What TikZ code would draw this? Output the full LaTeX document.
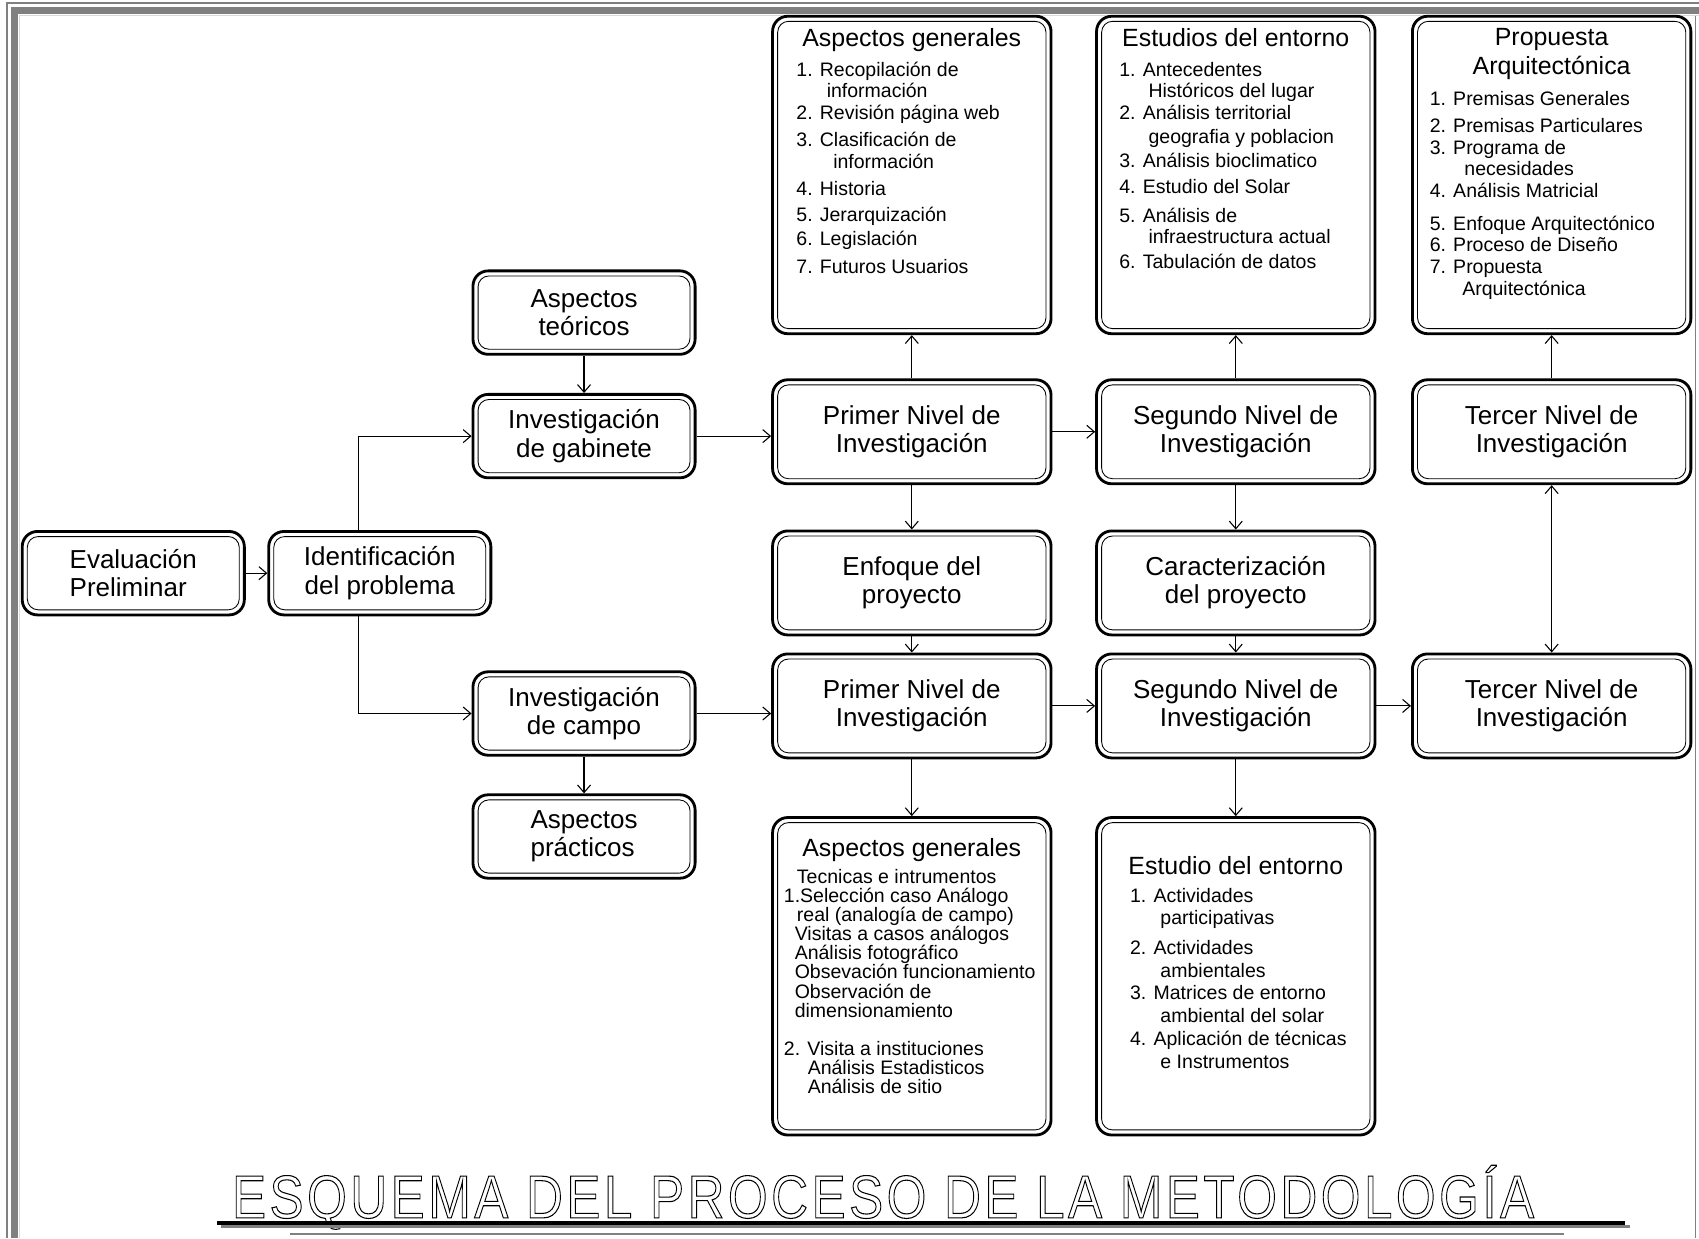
\documentclass[tikz,border=0pt]{standalone}
\usepackage{fontspec}
\setmainfont{Liberation Sans}
\usepackage{tikz}
\usetikzlibrary{arrows.meta}
\newcommand\boxfont{\fontsize{12}{13}\selectfont}
\newcommand\headfont{\fontsize{11.5}{13}\selectfont}
\newcommand\listfont{\fontsize{9}{10}\selectfont}
\newcommand\titlefont{\fontsize{28}{30}\selectfont\addfontfeature{LetterSpace=7}}
\tikzstyle{caja}=[draw,line width=1.3pt,rounded corners=7pt,align=center,inner sep=0pt,font=\boxfont]
\tikzstyle{cajac}=[caja,minimum width=102.5pt,minimum height=38.5pt]
\tikzstyle{cajan}=[caja,minimum width=128.5pt,minimum height=48pt]
\tikzstyle{cajal}=[caja,minimum width=128.5pt,minimum height=146.5pt]
\tikzstyle{interior}=[line width=.4pt,rounded corners=5pt]
\tikzstyle{flecha}=[line width=.5pt,>/.tip={Straight Barb[length=3.5pt,width=6pt]},->]
\tikzstyle{marco}=[black!50]

\begin{document}
\begin{tikzpicture}[x=.5pt,y=-.5pt]
	\useasboundingbox (0,0) rectangle (1568,1143);
	% marco
	\draw[marco,line width=.6pt] (6.5,1143) -- (6.5,2.8) -- (1568,2.8);
	\draw[marco,line width=3.2pt] (13.4,1143) -- (13.4,9.7) -- (1568,9.7);
	\draw[black!15,line width=.6pt] (17.8,1143) -- (17.8,14) -- (1568,14);
	\draw[marco,line width=.6pt] (1565,15) -- (1565,1143);
	% cajas
	\node[cajac,align=left] (EV) at (123,529) {Evaluación\\Preliminar};
	\node[cajac] (ID) at (350.5,529) {Identificación\\del problema};
	\node[cajac] (AT) at (539,288.5) {Aspectos\\teóricos};
	\node[cajac] (IG) at (539,402.5) {Investigación\\de gabinete};
	\node[cajac] (IC) at (539,658.5) {Investigación\\de campo};
	\node[cajac,align=left] (AP) at (539,772) {Aspectos\\prácticos};
	\node[cajan] (P1a) at (841.5,398.5) {Primer Nivel de\\Investigación};
	\node[cajan] (S2a) at (1140.5,398.5) {Segundo Nivel de\\Investigación};
	\node[cajan] (T3a) at (1432,398.5) {Tercer Nivel de\\Investigación};
	\node[cajan] (EN) at (841.5,538) {Enfoque del\\proyecto};
	\node[cajan] (CA) at (1140.5,538) {Caracterización\\del proyecto};
	\node[cajan] (P1b) at (841.5,651.5) {Primer Nivel de\\Investigación};
	\node[cajan] (S2b) at (1140.5,651.5) {Segundo Nivel de\\Investigación};
	\node[cajan] (T3b) at (1432,651.5) {Tercer Nivel de\\Investigación};
	\node[cajal] (AG1) at (841.5,161.5) {\parbox[c][139pt][t]{118pt}{\vspace*{2pt}{\centering\headfont Aspectos generales\par}
		\vspace{3.5pt}\raggedright\leftskip=5.75pt\listfont
		1. Recopilación de\par
		\hspace*{14pt}información\par
		2. Revisión página web\par\vspace{2.5pt}
		3. Clasificación de\par
		\hspace*{17pt}información\par\vspace{2.5pt}
		4. Historia\par\vspace{2pt}
		5. Jerarquización\par\vspace{1pt}
		6. Legislación\par\vspace{3pt}
		7. Futuros Usuarios}};
	\node[cajal] (EE1) at (1140.5,161.5) {\parbox[c][139pt][t]{118pt}{\vspace*{2pt}{\centering\headfont Estudios del entorno\par}
		\vspace{3.5pt}\raggedright\leftskip=5.25pt\listfont
		1. Antecedentes\par
		\hspace*{13.5pt}Históricos del lugar\par
		2. Análisis territorial\par\vspace{1pt}
		\hspace*{13.5pt}geografia y poblacion\par\vspace{1pt}
		3. Análisis bioclimatico\par\vspace{2pt}
		4. Estudio del Solar\par\vspace{3.5pt}
		5. Análisis de\par
		\hspace*{13.5pt}\mbox{infraestructura actual}\par\vspace{1.5pt}
		6. Tabulación de datos}};
	\node[cajal] (PA) at (1432,161.5) {\parbox[c][139pt][t]{118pt}{\vspace*{2pt}{\centering\headfont Propuesta\\Arquitectónica\par}
		\vspace{4.5pt}\raggedright\leftskip=2.75pt\listfont
		1. Premisas Generales\par\vspace{2.5pt}
		\mbox{2. Premisas Particulares}\par
		3. Programa de\par
		\hspace*{16pt}necesidades\par
		4. Análisis Matricial\par\vspace{5pt}
		\mbox{5. Enfoque Arquitectónico}\par
		6. Proceso de Diseño\par
		7. Propuesta\par
		\hspace*{15pt}Arquitectónica}};
	\node[cajal] (AG2) at (841.5,901) {\parbox[c][139pt][t]{118pt}{\vspace*{6pt}{\centering\headfont Aspectos generales\par}
		\vspace{2.5pt}\raggedright\fontsize{9}{8.8}\selectfont
		\hspace*{6pt}Tecnicas e intrumentos\par
		\mbox{1.Selección caso Análogo}\par
		\hspace*{6pt}\mbox{real (analogía de campo)}\par
		\hspace*{5pt}\mbox{Visitas a casos análogos}\par
		\hspace*{5pt}Análisis fotográfico\par
		\hspace*{5pt}\mbox{Obsevación funcionamiento}\par
		\hspace*{5pt}Observación de\par
		\hspace*{5pt}dimensionamiento\par\vspace{9pt}
		\mbox{2. Visita a instituciones}\par
		\hspace*{11pt}Análisis Estadisticos\par
		\hspace*{11pt}Análisis de sitio}};
	\node[cajal] (EE2) at (1140.5,901) {\parbox[c][139pt][t]{118pt}{\vspace*{14pt}{\centering\headfont Estudio del entorno\par}
		\vspace{2.5pt}\raggedright\leftskip=10.25pt\fontsize{9}{10.5}\selectfont
		1. Actividades\par
		\hspace*{14pt}participativas\par\vspace{3pt}
		2. Actividades\par
		\hspace*{14pt}ambientales\par
		\mbox{3. Matrices de entorno}\par
		\hspace*{14pt}\mbox{ambiental del solar}\par
		\mbox{4. Aplicación de técnicas}\par
		\hspace*{14pt}e Instrumentos}};
	\foreach \n in {EV,ID,AT,IG,IC,AP,P1a,S2a,T3a,EN,CA,P1b,S2b,T3b,AG1,EE1,PA,AG2,EE2}
		\draw[interior] ([shift={(3pt,-3pt)}]\n.north west) rectangle ([shift={(-3pt,3pt)}]\n.south east);
	% flechas
	\draw[flecha] (EV) -- (ID);
	\draw[flecha] ([xshift=-10pt]ID.north) |- (IG);
	\draw[flecha] ([xshift=-10pt]ID.south) |- (IC);
	\draw[flecha] (AT) -- (IG);
	\draw[flecha] (IC) -- (AP);
	\draw[flecha] (IG.east) -- (IG.east -| P1a.west);
	\draw[flecha] (IC.east) -- (IC.east -| P1b.west);
	\draw[flecha] (P1a) -- (S2a);
	\draw[flecha] (P1b) -- (S2b);
	\draw[flecha] (S2b) -- (T3b);
	\draw[flecha] (P1a) -- (AG1);
	\draw[flecha] (S2a) -- (EE1);
	\draw[flecha] (T3a) -- (PA);
	\draw[flecha] (P1a) -- (EN);
	\draw[flecha] (S2a) -- (CA);
	\draw[flecha] (EN) -- (P1b);
	\draw[flecha] (CA) -- (S2b);
	\draw[flecha,<->] (T3a) -- (T3b);
	\draw[flecha] (P1b) -- (AG2);
	\draw[flecha] (S2b) -- (EE2);
	% titulo
	\node[anchor=base,font=\titlefont] (titulo) at (815,1124) {\special{pdf:literal direct 1 Tr 0.5 w}\scalebox{.84}[1]{ESQUEMA DEL PROCESO DE LA METODOLOGÍA}\special{pdf:literal direct 0 Tr}};
	\draw[marco,line width=1pt] (204,1132) -- (1504,1132);
	\draw[line width=2pt] (200,1128.5) -- (1500,1128.5);
	\draw[marco,line width=1pt] (268,1139) -- (1443,1139);
\end{tikzpicture}
\end{document}
